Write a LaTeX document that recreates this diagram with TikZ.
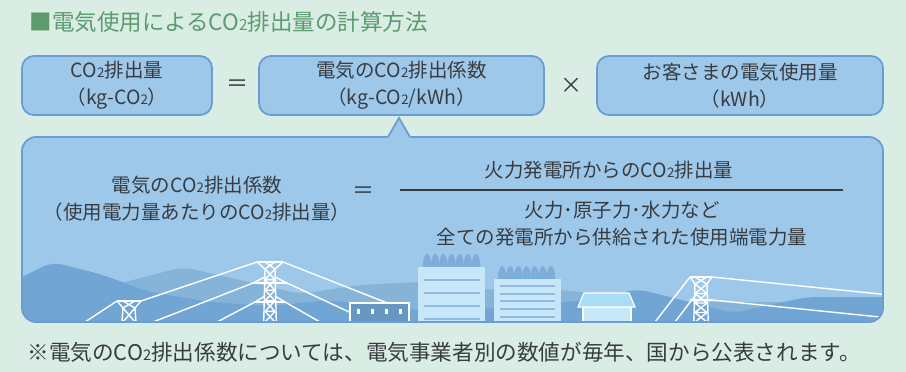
\documentclass[tikz,border=0pt]{standalone}
\usepackage{graphicx}
\usepackage{fontspec}
\setmainfont{Noto Sans CJK JP}

\definecolor{bgmint}{HTML}{D9EDE5}
\definecolor{boxfill}{HTML}{9DC8EA}
\definecolor{boxline}{HTML}{6A9DD3}
\definecolor{titlegreen}{HTML}{5C9B6E}
\definecolor{inktext}{HTML}{383C40}
\definecolor{hillback}{HTML}{86B3D8}
\definecolor{hillfront}{HTML}{71A5D3}
\definecolor{plantwall}{HTML}{C7E7F8}
\definecolor{plantline}{HTML}{8FBAE1}
\definecolor{plantdome}{HTML}{7DADD9}
\definecolor{roofblue}{HTML}{A9DCF6}

% CO2 with the small figure
\newcommand{\cotwo}{CO\scalebox{0.68}{2}}

% pylon: x, top, leg half-width, arm half-length, panels
\newcommand{\pylon}[5]{
  \draw[wire] (#1-#4,#2) -- (#1+#4,#2);
  \draw[wire] (#1-#4,#2) -- (#1-#3,#2+7) -- (#1-#3-1.5,330);
  \draw[wire] (#1+#4,#2) -- (#1+#3,#2+7) -- (#1+#3+1.5,330);
  \draw[wire] (#1-#3,#2) -- (#1+#3,#2+7) (#1+#3,#2) -- (#1-#3,#2+7);
  \pgfmathsetmacro{\pstep}{(322-#2-7)/#5}
  \foreach \k in {1,...,#5}{
    \pgfmathsetmacro{\ya}{#2+7+(\k-1)*\pstep}
    \pgfmathsetmacro{\yb}{\ya+\pstep}
    \draw[wire] (#1-#3,\ya) -- (#1+#3,\yb) (#1+#3,\ya) -- (#1-#3,\yb)
      (#1-#3,\yb) -- (#1+#3,\yb);
  }
}

\begin{document}
\begin{tikzpicture}[
    x=1pt, y=-1pt,
    font=\fontsize{19.5}{27}\selectfont,
    every node/.style={text=inktext},
    termbox/.style={
      draw=boxline,
      line width=1.8pt,
      fill=boxfill,
      rounded corners=12pt,
      minimum height=59pt,
      inner sep=0pt,
      align=center
    },
    opsign/.style={font=\fontsize{22}{22}\selectfont},
    wire/.style={white, line width=1.4pt},
    stripe/.style={plantline, line width=2.4pt},
    fracbar/.style={inktext, line width=1.6pt}
  ]

  \fill[bgmint] (0,0) rectangle (906,372);
  \useasboundingbox (0,0) rectangle (906,372);

  % =====================================================
  % TITLE
  % =====================================================
  \node[anchor=west, text=titlegreen, font=\fontsize{22.5}{22.5}\selectfont]
  (title) at (26,22) {■電気使用による\cotwo 排出量の計算方法};

  % =====================================================
  % TOP ROW: EMISSION = FACTOR x USAGE
  % =====================================================
  \node[termbox, minimum width=190pt] (emission) at (117,85.5)
  {\cotwo 排出量\\（kg-\cotwo）};
  \node[termbox, minimum width=285pt] (factor) at (401.5,85.5)
  {電気の\cotwo 排出係数\\（kg-\cotwo/kWh）};
  \node[termbox, minimum width=286pt] (usage) at (740,85.5)
  {お客さまの電気使用量\\（kWh）};

  \node[opsign] (eqtop) at (237,86) {＝};
  \node[opsign] (times) at (571,86) {×};

  % =====================================================
  % BUBBLE
  % =====================================================
  \fill[boxfill, rounded corners=14pt] (22,137) rectangle (883,322);

  \begin{scope}
    \clip[rounded corners=14pt] (22,137) rectangle (883,322);

    % hills
    \fill[hillback, rounded corners=10pt]
    (10,330) -- (10,300) -- (110,286) -- (183,267) -- (240,280) --
    (300,294) -- (360,285) -- (420,282) -- (480,290) -- (530,287) --
    (600,294) -- (660,302) -- (900,302) -- (900,330) -- cycle;
    \fill[hillfront, rounded corners=10pt]
    (10,330) -- (10,283) -- (52,262) -- (100,274) -- (150,292) --
    (210,302) -- (270,306) -- (330,300) -- (390,309) -- (460,311) --
    (540,304) -- (590,300) -- (638,289) -- (733,313) -- (807,297) --
    (900,297) -- (900,330) -- cycle;

    % lines between pylons
    \draw[wire] (117,301) -- (85,322);
    \draw[wire] (141,301) -- (257,262);
    \draw[wire] (253,283) -- (153,322);
    \draw[wire] (255,302) -- (217,322);
    \draw[wire] (283,262) -- (400,308);
    \draw[wire] (287,283) -- (362,318);
    \draw[wire] (285,302) -- (320,322);
    \draw[wire] (690,277) -- (655,322);
    \draw[wire] (697,293) -- (675,322);
    \draw[wire] (712,277) -- (890,295);
    \draw[wire] (712,300) -- (890,318);

    % pylons
    \pylon{129}{301}{6}{12}{1}
    \pylon{270}{262}{5}{13}{5}
    \pylon{701}{277}{6}{11}{4}
    \draw[wire] (253,283) -- (287,283) (255,302) -- (285,302);
    \draw[wire] (253,283) -- (265,277) (287,283) -- (275,277);
    \draw[wire] (255,302) -- (265,296) (285,302) -- (275,296);
    \draw[wire] (690,300) -- (712,300);

    % small station
    \filldraw[fill=hillfront!92!black, draw=white, line width=1.2pt]
    (350,303) rectangle (409,330);
    \foreach \x in {358,372,386,400}
    \fill[white] (\x-1.5,309) rectangle (\x+1.5,314);

    % power plants
    \foreach \i in {0,...,6}{
      \fill[plantdome] (427.1+8.14*\i,267) ellipse [x radius=4.3, y radius=13];
      \fill[plantdome] (502.1+8.14*\i,279) ellipse [x radius=4.3, y radius=13];
    }
    \fill[plantwall] (418,267) rectangle (485,330);
    \fill[plantwall] (494,279) rectangle (561,330);
    \foreach \y in {280,293,306,319}
    \draw[stripe] (424,\y) -- (480,\y);
    \foreach \y in {286,294,301,309,317}
    \draw[stripe, line width=2pt] (500,\y) -- (555,\y);

    % house
    \filldraw[fill=plantwall, draw=white, line width=1.2pt]
    (583,307) rectangle (631,330);
    \filldraw[fill=roofblue, draw=white, line width=1.2pt]
    (578,307) -- (584,293) -- (629,293) -- (635,307) -- cycle;
  \end{scope}

  \draw[boxline, line width=1.8pt, rounded corners=14pt]
  (22,137) rectangle (883,322);
  \fill[boxfill] (386.8,139) -- (399,118) -- (411.2,139) -- cycle;
  \draw[boxline, line width=1.8pt] (388,137) -- (399,118) -- (410,137);

  % =====================================================
  % FACTOR DEFINITION
  % =====================================================
  \node[align=center] (coef) at (197,199)
  {電気の\cotwo 排出係数\\（使用電力量あたりの\cotwo 排出量）};
  \node[opsign] (eqmid) at (363,193) {＝};

  \node (numer) at (609,170) {火力発電所からの\cotwo 排出量};
  \node[align=center] (denom) at (622,223.5)
  {火力･原子力･水力など\\全ての発電所から供給された使用端電力量};
  \draw[fracbar] (400,190) -- (843,190);

  % =====================================================
  % NOTE
  % =====================================================
  \node[anchor=west, font=\fontsize{21.6}{21.6}\selectfont] (note) at (24,352)
  {※電気の\cotwo 排出係数については、電気事業者別の数値が毎年、国から公表されます。};

\end{tikzpicture}
\end{document}
